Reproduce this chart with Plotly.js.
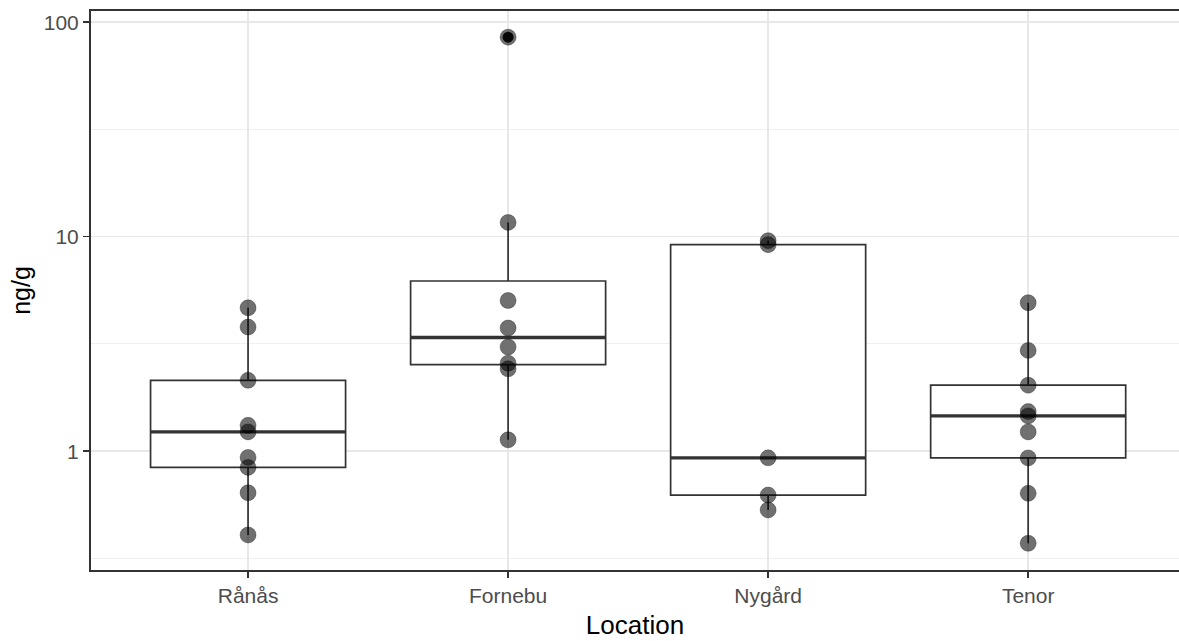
<!DOCTYPE html>
<html>
<head>
<meta charset="utf-8">
<script src="https://cdn.plot.ly/plotly-3.0.1.min.js"></script>
<style>
  html, body { margin: 0; padding: 0; background: #ffffff; }
  #chart { width: 1179px; height: 641px; }
</style>
</head>
<body>
<div id="chart"></div>
<script>
// Concentrations (ng/g) per sampling location
const categories = ['Rånås', 'Fornebu', 'Nygård', 'Tenor'];
const ranas   = [4.66, 3.79, 2.14, 1.32, 1.23, 0.935, 0.84, 0.64, 0.407];
const fornebu = [85.1, 11.65, 5.04, 3.75, 3.06, 2.57, 2.42, 1.13];
const nygard  = [9.58, 9.18, 0.931, 0.624, 0.532];
const tenor   = [4.92, 2.95, 2.03, 1.53, 1.46, 1.23, 0.93, 0.636, 0.372];
const yTickVals  = [1, 10, 100];
const yTickText  = ['1', '10', '100'];

const groups = [ranas, fornebu, nygard, tenor];
const positions = categories.map((_, i) => i);
const BOX_WIDTH = 0.75;

// Type-7 quantile on a sorted array
function quantile(sorted, p) {
  const h = (sorted.length - 1) * p;
  const lo = Math.floor(h), hi = Math.ceil(h);
  return sorted[lo] + (h - lo) * (sorted[hi] - sorted[lo]);
}

// Box statistics computed on the log10 scale, Tukey fences at 1.5 IQR
const stats = groups.map(vals => {
  const l = vals.map(Math.log10).sort((a, b) => a - b);
  const q1 = quantile(l, 0.25), med = quantile(l, 0.5), q3 = quantile(l, 0.75);
  const iqr = q3 - q1;
  const inside = l.filter(v => v >= q1 - 1.5 * iqr && v <= q3 + 1.5 * iqr);
  const outliers = l.filter(v => v < q1 - 1.5 * iqr || v > q3 + 1.5 * iqr);
  const p = v => Math.pow(10, v);
  return {
    q1: p(q1), median: p(med), q3: p(q3),
    lower: p(Math.min(...inside)), upper: p(Math.max(...inside)),
    outliers: outliers.map(p)
  };
});

const lineCol = '#333333';

const boxTrace = {
  type: 'box',
  x: positions,
  q1: stats.map(s => s.q1),
  median: stats.map(s => s.median),
  q3: stats.map(s => s.q3),
  lowerfence: stats.map(s => s.lower),
  upperfence: stats.map(s => s.upper),
  width: BOX_WIDTH,
  whiskerwidth: 0,
  fillcolor: '#ffffff',
  line: { color: lineCol, width: 1.7 },
  boxpoints: false,
  hoverinfo: 'skip',
  showlegend: false
};

// Heavier median bars
const medX = [], medY = [];
stats.forEach((s, i) => {
  medX.push(i - BOX_WIDTH / 2, i + BOX_WIDTH / 2, null);
  medY.push(s.median, s.median, null);
});
const medianTrace = {
  type: 'scatter', mode: 'lines', x: medX, y: medY,
  line: { color: lineCol, width: 3.3 },
  hoverinfo: 'skip', showlegend: false
};

const outX = [], outY = [];
stats.forEach((s, i) => s.outliers.forEach(v => { outX.push(i); outY.push(v); }));
const outlierTrace = {
  type: 'scatter', mode: 'markers', x: outX, y: outY,
  marker: { color: '#111111', size: 11 },
  hoverinfo: 'skip', showlegend: false
};

const ptX = [], ptY = [];
groups.forEach((vals, i) => vals.forEach(v => { ptX.push(i); ptY.push(v); }));
const pointTrace = {
  type: 'scatter', mode: 'markers', x: ptX, y: ptY,
  marker: { color: 'rgba(0,0,0,0.56)', size: 16, line: { color: 'rgba(0,0,0,0.3)', width: 1 } },
  showlegend: false
};

const font = 'Liberation Sans, Arial, sans-serif';

const layout = {
  width: 1179, height: 641,
  margin: { l: 91, r: 0, t: 11, b: 71, pad: 0 },
  paper_bgcolor: '#ffffff', plot_bgcolor: '#ffffff',
  font: { family: font, color: '#4d4d4d' },
  showlegend: false,
  xaxis: {
    range: [-0.604, 3.58],
    tickvals: positions, ticktext: categories,
    showgrid: true, gridcolor: '#e8e8e8', gridwidth: 1.4,
    zeroline: false,
    showline: true, mirror: true, linecolor: lineCol, linewidth: 2,
    ticks: 'outside', ticklen: 6, tickwidth: 1.6, tickcolor: lineCol,
    tickfont: { size: 21, color: '#4d4d4d' },
    title: { text: 'Location', font: { size: 26, color: '#000000' }, standoff: 10 }
  },
  yaxis: {
    type: 'log',
    range: [-0.554, 2.052],
    tickvals: yTickVals, ticktext: yTickText,
    showgrid: true, gridcolor: '#e8e8e8', gridwidth: 1.4,
    minor: {
      tickvals: [-1, 0, 1].map(k => Math.pow(10, k + 0.5)),
      showgrid: true, gridcolor: '#f0f0f0', gridwidth: 1.1, ticks: ''
    },
    zeroline: false,
    showline: true, mirror: false, linecolor: lineCol, linewidth: 2,
    ticks: 'outside', ticklen: 6, tickwidth: 1.6, tickcolor: lineCol,
    tickfont: { size: 21, color: '#4d4d4d' },
    title: { text: 'ng/g', font: { size: 25, color: '#000000' } }
  }
};

Plotly.newPlot('chart', [boxTrace, medianTrace, outlierTrace, pointTrace], layout,
  { staticPlot: true, displayModeBar: false });
</script>
</body>
</html>
